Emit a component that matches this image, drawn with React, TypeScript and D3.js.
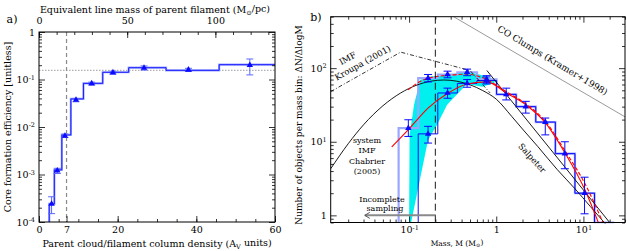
import { useEffect, useRef } from 'react'
import * as d3 from 'd3'

// ---------- panel a: core formation efficiency vs background column density ----------
const avBinEdges = [2.6, 3.9, 5.8, 8.1, 11.3, 16.2, 22.8, 32.3, 45.8, 60]
const cfeBins = [2.4e-4, 1.25e-3, 6.8e-3, 0.039, 0.083, 0.142, 0.177, 0.156, 0.205]
const avCenters = [3.2, 4.65, 6.6, 9.4, 13.4, 18.8, 26.7, 38, 53.6]
const cfeValues = [2.4e-4, 1.2e-3, 6.5e-3, 0.037, 0.082, 0.14, 0.175, 0.16, 0.2]
const cfeLow = [1.5e-4, 1.05e-3, 6.0e-3, 0.034, 0.077, 0.13, 0.158, 0.148, 0.125]
const cfeHigh = [3.4e-4, 1.35e-3, 7.1e-3, 0.04, 0.088, 0.15, 0.193, 0.172, 0.27]
const cfeAsymptote = 0.155
const avThreshold = 7
const avTicks = [0, 7, 20, 40, 60]
const avDecades = [1e-4, 1e-3, 1e-2, 1e-1, 1]
const lineMassTicks = [0, 50, 100]
const lineMassPerAv = 2.23

// ---------- panel b: core mass function ----------
const massEdges = [0.0758, 0.1272, 0.2134, 0.358, 0.601, 1.008, 1.692, 2.839, 4.764, 7.994, 13.41, 22.5]
const candidateHist = [15.3, 73, 82, 88, 70.5, 44, 30, 18.5, 6.9, 2.0, 0]
const robustHist = [0, 12.8, 46, 62, 68, 44, 30, 18.5, 6.9, 2.0, 0]

const candidateMass = [0.098, 0.165, 0.276, 0.463, 0.775]
const candidateN = [15.3, 73, 82, 88, 70.5]
const candidateLow = [11.8, 65, 74, 79, 63]
const candidateHigh = [19.9, 82, 91, 97, 79]

const robustMass = [0.165, 0.276, 0.463, 0.775, 1.3, 2.18, 3.65, 6.12, 10.3]
const robustN = [12.8, 46, 62, 68, 44, 30, 18.5, 6.9, 2.0]
const robustLow = [9.6, 39, 55, 61, 37, 24.5, 12.4, 4.3, 1.05]
const robustHigh = [16.2, 53.5, 70, 76, 53.5, 35.4, 21, 10, 3.3]

const robustFit: [number, number][] = [
  [0.063, 8.5], [0.1, 15], [0.166, 28.8], [0.278, 45.6], [0.466, 60.9], [0.78, 65],
  [1.32, 45.6], [2.18, 31.8], [3.69, 17.9], [6.16, 7.0], [10.4, 2.23], [14.9, 0.79],
]
const candidateFit: [number, number][] = [
  [0.0974, 50.7], [0.1337, 65.7], [0.166, 73], [0.282, 80], [0.459, 82.6], [0.745, 71.7],
  [1.32, 47.6], [2.18, 32.8], [3.69, 18.7], [6.16, 7.5], [10.4, 2.7], [16.8, 0.79],
]
const bandUpper: [number, number][] = [
  [0.1, 0.8], [0.1013, 12.4], [0.114, 31.9], [0.1337, 69], [0.165, 76.7], [0.28, 81],
  [0.46, 90], [0.745, 78.5], [0.97, 69],
]
const bandLower: [number, number][] = [
  [0.1055, 0.8], [0.165, 10.6], [0.2095, 17], [0.273, 31.9], [0.46, 61], [0.69, 56], [0.95, 63],
]
const chabrierImf: [number, number][] = [
  [0.0126, 4.3], [0.02, 9.4], [0.03, 17], [0.05, 30.8], [0.08, 46], [0.12, 58.3], [0.18, 66.7],
  [0.25, 69], [0.35, 66.6], [0.5, 59.4], [0.7, 49.6], [1.0, 37.9], [1.5, 22.2], [2, 14.9],
  [3, 8.6], [5, 4.2], [8, 2.3], [12, 1.32], [18, 0.76],
]
const kroupaImf: [number, number][] = [[0.0126, 48], [0.08, 165], [0.5, 93], [0.85, 46]]
const powerLawFit: [number, number][] = [[0.78, 93], [20, 0.8]]
const coClumps: [number, number][] = [[0.324, 500], [30, 21.8]]
const completenessMass = 0.2
const arrowEndMass = 0.031

const FONT = 'DejaVu Serif, serif'

type G = d3.Selection<SVGGElement, unknown, null, undefined>

function styleTicks(g: any) {
  g.select('.domain').remove()
  g.selectAll('.tick line').attr('stroke', '#000').attr('stroke-width', 0.8)
  g.selectAll('.tick text').attr('fill', '#000').style('font-family', FONT).style('font-size', '9.5px')
}

function powLabels(g: any) {
  g.selectAll('.tick text').each(function (this: any, d: any) {
    const e = Math.round(Math.log10(d))
    const t = d3.select(this)
    t.text(null)
    if (e === 0) { t.text('1'); return }
    t.append('tspan').text('10')
    t.append('tspan').attr('dy', '-0.5em').style('font-size', '6.5px').text(String(e))
  })
}

function logMinor(lo: number, hi: number) {
  const out: number[] = []
  for (let e = Math.floor(Math.log10(lo)); e <= Math.ceil(Math.log10(hi)); e++) {
    for (let m = 2; m <= 9; m++) {
      const v = m * Math.pow(10, e)
      if (v >= lo && v <= hi) out.push(v)
    }
  }
  return out
}

function label(g: G, x: number, y: number, parts: [string, string?][], opts: { rotate?: number; size?: number; anchor?: string; fill?: string } = {}) {
  const t = g.append('text')
    .attr('transform', `translate(${x},${y}) rotate(${opts.rotate ?? 0})`)
    .attr('text-anchor', opts.anchor ?? 'middle')
    .attr('fill', opts.fill ?? '#000')
    .style('font-family', FONT)
    .style('font-size', `${opts.size ?? 9.5}px`)
  let shift = 0
  parts.forEach(([s, kind]) => {
    const sp = t.append('tspan').text(s)
    const target = kind === 'sub' ? 0.3 : kind === 'sup' ? -0.45 : 0
    if (target !== shift) sp.attr('dy', `${target - shift}em`)
    if (kind) sp.style('font-size', `${(opts.size ?? 9.5) * 0.7}px`)
    shift = target
  })
  return t
}

export default function App() {
  const svgRef = useRef<SVGSVGElement>(null)

  useEffect(() => {
    if (!svgRef.current) return
    const svg = d3.select(svgRef.current)
    svg.selectAll('*').remove()
    const root = svg.append('g') as G

    const blue = '#0a0aff'
    const lightBlue = '#9aa6ff'

    // ===================== panel a =====================
    const xA = d3.scaleLinear().domain([0, 60]).range([39, 275])
    const xTopA = d3.scaleLinear().domain([0, 60 * lineMassPerAv]).range([39, 275])
    const yA = d3.scaleLog().domain([1e-4, 1]).range([222, 32])
    const [a0, a1] = xA.range()
    const [aB, aT] = yA.range()

    const ga = root.append('g')
    ga.append('defs').append('clipPath').attr('id', 'clipA')
      .append('rect').attr('x', a0).attr('y', aT).attr('width', a1 - a0).attr('height', aB - aT)
    const da = ga.append('g').attr('clip-path', 'url(#clipA)')

    da.append('line')
      .attr('x1', a0).attr('x2', a1).attr('y1', yA(cfeAsymptote)).attr('y2', yA(cfeAsymptote))
      .attr('stroke', '#b0b0b0').attr('stroke-width', 1.2).attr('stroke-dasharray', '1.5 1.5')
    da.append('line')
      .attr('x1', xA(avThreshold)).attr('x2', xA(avThreshold)).attr('y1', aT).attr('y2', aB)
      .attr('stroke', '#8a8a8a').attr('stroke-width', 1.2).attr('stroke-dasharray', '4 3')

    const histA: [number, number][] = [[avBinEdges[0], 1e-6]]
    cfeBins.forEach((v, i) => histA.push([avBinEdges[i], v]))
    histA.push([avBinEdges[avBinEdges.length - 1], cfeBins[cfeBins.length - 1]])
    const stepA = d3.line<[number, number]>().x(d => xA(d[0])).y(d => d[1] < 1e-4 ? aB + 2 : yA(d[1])).curve(d3.curveStepAfter)
    da.append('path').datum(histA).attr('fill', 'none').attr('stroke', lightBlue).attr('stroke-width', 2.2).attr('d', stepA)
    da.append('path').datum(histA).attr('fill', 'none').attr('stroke', blue).attr('stroke-width', 0.9).attr('d', stepA)

    avCenters.forEach((av, i) => {
      const x = xA(av)
      da.append('line').attr('x1', x).attr('x2', x).attr('y1', yA(cfeLow[i])).attr('y2', yA(cfeHigh[i]))
        .attr('stroke', '#5a68ff').attr('stroke-width', 1)
      ;[cfeLow[i], cfeHigh[i]].forEach(v => {
        da.append('line').attr('x1', x - 3.5).attr('x2', x + 3.5).attr('y1', yA(v)).attr('y2', yA(v))
          .attr('stroke', '#5a68ff').attr('stroke-width', 1)
      })
      da.append('path').attr('d', d3.symbol(d3.symbolTriangle).size(18)())
        .attr('transform', `translate(${x},${yA(cfeValues[i])})`).attr('fill', blue)
    })

    ga.append('rect').attr('x', a0).attr('y', aT).attr('width', a1 - a0).attr('height', aB - aT)
      .attr('fill', 'none').attr('stroke', '#000').attr('stroke-width', 1)

    ga.append('g').attr('transform', `translate(0,${aB})`)
      .call(d3.axisBottom(xA).tickValues(avTicks).tickSize(-6).tickPadding(4)).call(styleTicks)
    ga.append('g').attr('transform', `translate(0,${aB})`)
      .call(d3.axisBottom(xA).tickValues(d3.range(0, 61, 5)).tickSize(-3).tickFormat(() => '')).call(styleTicks)
    ga.append('g').attr('transform', `translate(0,${aT})`)
      .call(d3.axisTop(xTopA).tickValues(lineMassTicks).tickSize(-6).tickPadding(8)).call(styleTicks)
    ga.append('g').attr('transform', `translate(0,${aT})`)
      .call(d3.axisTop(xTopA).tickValues(d3.range(0, 131, 10)).tickSize(-3).tickFormat(() => '')).call(styleTicks)
    ga.append('g').attr('transform', `translate(${a0},0)`)
      .call(d3.axisLeft(yA).tickValues(avDecades).tickSize(-6).tickPadding(4)).call(styleTicks).call(powLabels)
    ga.append('g').attr('transform', `translate(${a0},0)`)
      .call(d3.axisLeft(yA).tickValues(logMinor(1e-4, 1)).tickSize(-3).tickFormat(() => '')).call(styleTicks)
    ga.append('g').attr('transform', `translate(${a1},0)`)
      .call(d3.axisRight(yA).tickValues(avDecades).tickSize(-6).tickFormat(() => '')).call(styleTicks)
    ga.append('g').attr('transform', `translate(${a1},0)`)
      .call(d3.axisRight(yA).tickValues(logMinor(1e-4, 1)).tickSize(-3).tickFormat(() => '')).call(styleTicks)

    label(ga, 155, 12.5, [['Equivalent line mass of parent filament (M'], ['⊙', 'sub'], ['/pc)']])
    label(ga, 157, 246.5, [['Parent cloud/filament column density (A'], ['V', 'sub'], [' units)']])
    label(ga, 11, 127, [['Core formation efficiency [unitless]']], { rotate: -90 })
    label(ga, 12, 23, [['a)']], { size: 11 })

    // ===================== panel b =====================
    const xB = d3.scaleLog().domain([0.0126, 30]).range([330.7, 625])
    const yB = d3.scaleLog().domain([0.8, 500]).range([222.5, 16.7])
    const [b0, b1] = xB.range()
    const [bB, bT] = yB.range()
    const yv = (v: number) => (v > 0 ? yB(v) : bB)

    const gb = root.append('g')
    gb.append('defs').append('clipPath').attr('id', 'clipB')
      .append('rect').attr('x', b0).attr('y', bT).attr('width', b1 - b0).attr('height', bB - bT + 1)
    const db = gb.append('g').attr('clip-path', 'url(#clipB)')

    const px = (d: [number, number]) => [xB(d[0]), yB(d[1])] as [number, number]
    const band = bandUpper.map(px).concat(bandLower.slice().reverse().map(px))
    db.append('path').attr('d', d3.line().curve(d3.curveLinearClosed)(band))
      .attr('fill', '#00f0f0').attr('stroke', 'none')

    const histPts = (vals: number[]) => {
      const pts: [number, number][] = [[massEdges[0], 0]]
      vals.forEach((v, i) => pts.push([massEdges[i], v]))
      pts.push([massEdges[massEdges.length - 1], vals[vals.length - 1]])
      return pts
    }
    const stepB = d3.line<[number, number]>().x(d => xB(d[0])).y(d => yv(d[1])).curve(d3.curveStepAfter)
    db.append('path').datum(histPts(candidateHist)).attr('fill', 'none').attr('stroke', lightBlue).attr('stroke-width', 2.2).attr('d', stepB)
    db.append('path').datum(histPts(robustHist)).attr('fill', 'none').attr('stroke', blue).attr('stroke-width', 1).attr('d', stepB)

    const smooth = d3.line<[number, number]>().x(d => xB(d[0])).y(d => yB(d[1])).curve(d3.curveMonotoneX)
    const straight = d3.line<[number, number]>().x(d => xB(d[0])).y(d => yB(d[1]))

    db.append('path').datum(coClumps).attr('d', straight).attr('fill', 'none').attr('stroke', '#808080').attr('stroke-width', 0.8)
    db.append('path').datum(kroupaImf).attr('d', straight).attr('fill', 'none').attr('stroke', '#000')
      .attr('stroke-width', 0.8).attr('stroke-dasharray', '4 2 1 2')
    db.append('path').datum(chabrierImf).attr('d', smooth).attr('fill', 'none').attr('stroke', '#000').attr('stroke-width', 0.9)
    db.append('path').datum(powerLawFit).attr('d', straight).attr('fill', 'none').attr('stroke', '#000').attr('stroke-width', 0.9)
    db.append('path').datum(robustFit).attr('d', smooth).attr('fill', 'none').attr('stroke', '#ff0000').attr('stroke-width', 1.1)
    db.append('path').datum(candidateFit).attr('d', smooth).attr('fill', 'none').attr('stroke', '#ff0000')
      .attr('stroke-width', 1.1).attr('stroke-dasharray', '4 2')

    db.append('line').attr('x1', xB(completenessMass)).attr('x2', xB(completenessMass)).attr('y1', bT).attr('y2', bB)
      .attr('stroke', '#000').attr('stroke-width', 0.9).attr('stroke-dasharray', '7 4')

    const errBars = (ms: number[], ns: number[], lo: number[], hi: number[]) => {
      ms.forEach((m, i) => {
        const x = xB(m)
        db.append('line').attr('x1', x).attr('x2', x).attr('y1', yB(lo[i])).attr('y2', yB(hi[i]))
          .attr('stroke', blue).attr('stroke-width', 1)
        ;[lo[i], hi[i]].forEach(v => {
          db.append('line').attr('x1', x - 4).attr('x2', x + 4).attr('y1', yB(v)).attr('y2', yB(v))
            .attr('stroke', blue).attr('stroke-width', 1)
        })
        db.append('path').attr('d', d3.symbol(d3.symbolTriangle).size(18)())
          .attr('transform', `translate(${x},${yB(ns[i])})`).attr('fill', blue)
      })
    }
    errBars(candidateMass, candidateN, candidateLow, candidateHigh)
    errBars(robustMass, robustN, robustLow, robustHigh)

    // incomplete sampling arrow
    const ay = yB(1)
    gb.append('line').attr('x1', xB(completenessMass)).attr('x2', xB(arrowEndMass)).attr('y1', ay).attr('y2', ay)
      .attr('stroke', '#8a8a8a').attr('stroke-width', 2)
    gb.append('path')
      .attr('d', `M${xB(arrowEndMass) + 5},${ay - 3} L${xB(arrowEndMass)},${ay} L${xB(arrowEndMass) + 5},${ay + 3}`)
      .attr('fill', 'none').attr('stroke', '#555').attr('stroke-width', 1)

    gb.append('rect').attr('x', b0).attr('y', bT).attr('width', b1 - b0).attr('height', bB - bT)
      .attr('fill', 'none').attr('stroke', '#000').attr('stroke-width', 1)

    const bMajorX = [0.1, 1, 10]
    const bMajorY = [1, 10, 100]
    gb.append('g').attr('transform', `translate(0,${bB})`)
      .call(d3.axisBottom(xB).tickValues(bMajorX).tickSize(-6).tickPadding(4)).call(styleTicks).call(powLabels)
    gb.append('g').attr('transform', `translate(0,${bB})`)
      .call(d3.axisBottom(xB).tickValues(logMinor(0.0126, 30)).tickSize(-3).tickFormat(() => '')).call(styleTicks)
    gb.append('g').attr('transform', `translate(0,${bT})`)
      .call(d3.axisTop(xB).tickValues(bMajorX).tickSize(-6).tickFormat(() => '')).call(styleTicks)
    gb.append('g').attr('transform', `translate(0,${bT})`)
      .call(d3.axisTop(xB).tickValues(logMinor(0.0126, 30)).tickSize(-3).tickFormat(() => '')).call(styleTicks)
    gb.append('g').attr('transform', `translate(${b0},0)`)
      .call(d3.axisLeft(yB).tickValues(bMajorY).tickSize(-6).tickPadding(4)).call(styleTicks).call(powLabels)
    gb.append('g').attr('transform', `translate(${b0},0)`)
      .call(d3.axisLeft(yB).tickValues(logMinor(0.8, 500)).tickSize(-3).tickFormat(() => '')).call(styleTicks)
    gb.append('g').attr('transform', `translate(${b1},0)`)
      .call(d3.axisRight(yB).tickValues(bMajorY).tickSize(-6).tickFormat(() => '')).call(styleTicks)
    gb.append('g').attr('transform', `translate(${b1},0)`)
      .call(d3.axisRight(yB).tickValues(logMinor(0.8, 500)).tickSize(-3).tickFormat(() => '')).call(styleTicks)

    label(gb, 457, 245.5, [['Mass, M (M'], ['⊙', 'sub'], [')']], { size: 7.5 })
    label(gb, 302, 125, [['Number of objects per mass bin: ΔN/ΔlogM']], { rotate: -90, size: 9 })
    label(gb, 316, 21, [['b)']], { size: 11 })
    label(gb, 349, 61, [['IMF']], { rotate: -29, size: 8.5 })
    label(gb, 364, 65.5, [['Kroupa (2001)']], { rotate: -29, size: 8.5 })
    label(gb, 551, 63, [['CO Clumps (Kramer+1998)']], { rotate: 31, size: 9 })
    label(gb, 530, 160, [['Salpeter']], { rotate: 48, size: 8.5 })
    ;['system', 'IMF', 'Chabrier', '(2005)'].forEach((s, i) => label(gb, 367, 143 + i * 10.3, [[s]], { size: 8 }))
    label(gb, 382, 202, [['Incomplete']], { size: 8 })
    label(gb, 385, 211, [['sampling']], { size: 8 })
  }, [])

  return (
    <div style={{ position: 'absolute', left: 0, top: 0 }}>
      <svg ref={svgRef} width={627} height={251} style={{ display: 'block', background: '#fff' }}></svg>
    </div>
  )
}
